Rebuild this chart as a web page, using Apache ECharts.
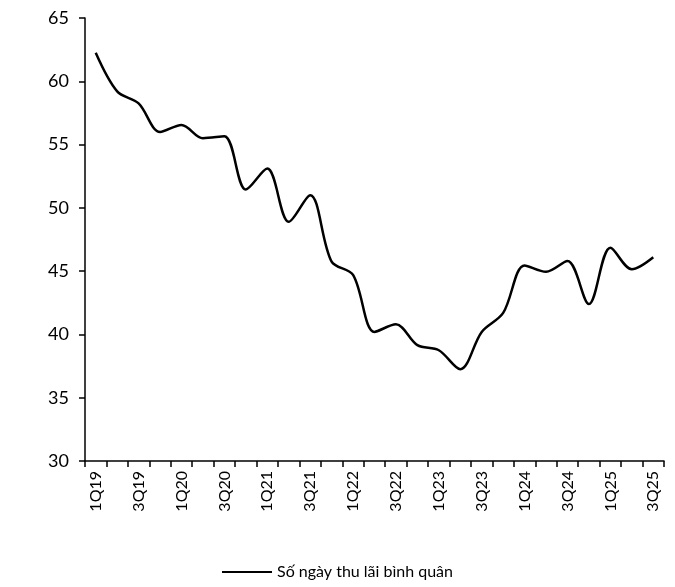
<!DOCTYPE html>
<html><head><meta charset="utf-8">
<script src="https://cdn.jsdelivr.net/npm/echarts@6/dist/echarts.min.js"></script>
<style>html,body{margin:0;padding:0;background:#fff}#c{width:675px;height:587px}</style>
</head><body><div id="c"></div>
<script>
const categories = ['1Q19','2Q19','3Q19','4Q19','1Q20','2Q20','3Q20','4Q20','1Q21','2Q21','3Q21','4Q21','1Q22','2Q22','3Q22','4Q22','1Q23','2Q23','3Q23','4Q23','1Q24','2Q24','3Q24','4Q24','1Q25','2Q25','3Q25'];
const seriesName = 'Số ngày thu lãi bình quân';
const values = [62.25,59.2,58.25,56.0,56.55,55.5,55.65,51.45,53.1,48.9,51.0,45.75,44.7,40.2,40.8,39.15,38.75,37.25,40.2,41.7,45.45,44.95,45.8,42.4,46.85,45.15,46.1];
const yTicks = {min:30, max:65, interval:5};
const font = 'Lato, "Noto Sans", sans-serif';
const chart = echarts.init(document.getElementById('c'), null, {renderer:'canvas'});
chart.setOption({
  animation:false,
  backgroundColor:'#fff',
  grid:{left:85, top:18, right:11, bottom:126, containLabel:false},
  legend:{bottom:2, left:'center', itemWidth:50, itemHeight:2, itemGap:6,
    icon:'rect',
    textStyle:{fontFamily:font, fontSize:16, color:'#000'},
    data:[{name:seriesName, icon:'rect', itemStyle:{color:'#000'}}]},
  xAxis:{type:'category', data:categories, boundaryGap:true,
    axisLine:{lineStyle:{color:'#000', width:1.5}},
    axisTick:{show:true, interval:0, length:6, lineStyle:{color:'#000', width:1.5}},
    axisLabel:{interval:1, rotate:90, fontFamily:font, fontSize:16, color:'#000', margin:10}},
  yAxis:{type:'value', min:yTicks.min, max:yTicks.max, interval:yTicks.interval,
    splitLine:{show:false},
    axisLine:{show:true, lineStyle:{color:'#000', width:1.5}},
    axisTick:{show:true, inside:false, length:6, lineStyle:{color:'#000', width:1.5}},
    axisLabel:{fontFamily:font, fontSize:18, color:'#000', margin:16}},
  series:[{name:seriesName, type:'line', data:values, smooth:0.33, symbol:'none',
    lineStyle:{color:'#000', width:2.5}, itemStyle:{color:'#000'}}]
});
</script></body></html>
